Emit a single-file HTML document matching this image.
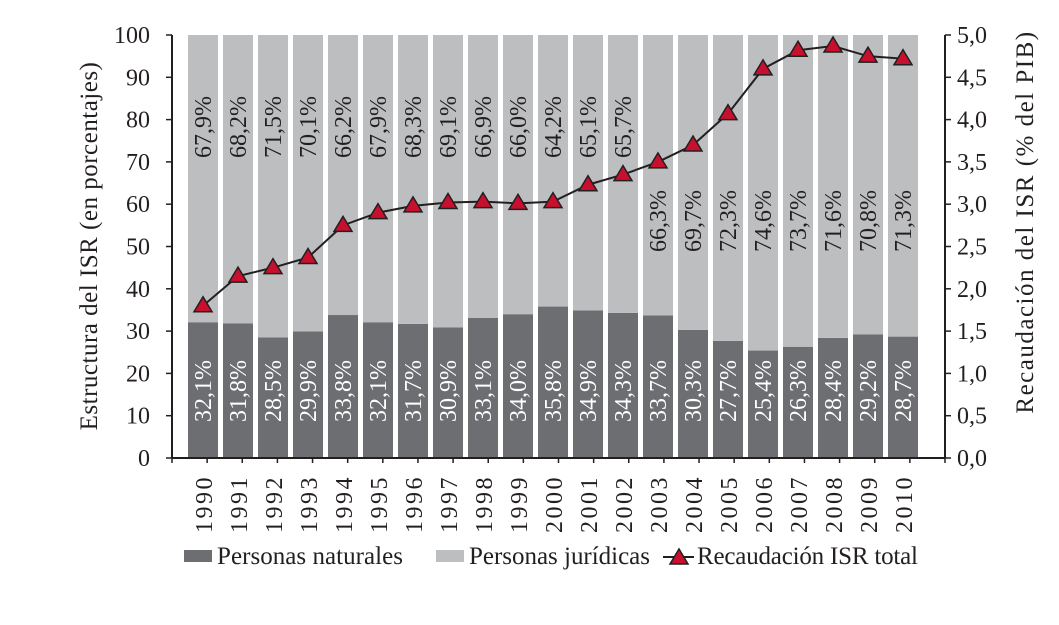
<!DOCTYPE html>
<html><head><meta charset="utf-8"><style>
body{margin:0;background:#fff}
svg text{font-family:"Liberation Serif",serif;fill:#231f20}
</style></head><body>
<svg id="c" width="1059" height="620" xmlns="http://www.w3.org/2000/svg"></svg>
<script>
const years=["1990","1991","1992","1993","1994","1995","1996","1997","1998","1999","2000","2001","2002","2003","2004","2005","2006","2007","2008","2009","2010"];
const naturales=[32.1,31.8,28.5,29.9,33.8,32.1,31.7,30.9,33.1,34.0,35.8,34.9,34.3,33.7,30.3,27.7,25.4,26.3,28.4,29.2,28.7];
const juridicas=[67.9,68.2,71.5,70.1,66.2,67.9,68.3,69.1,66.9,66.0,64.2,65.1,65.7,66.3,69.7,72.3,74.6,73.7,71.6,70.8,71.3];
const recaudacion=[1.8,2.15,2.25,2.37,2.75,2.9,2.98,3.02,3.03,3.01,3.03,3.23,3.35,3.5,3.7,4.07,4.6,4.82,4.87,4.75,4.72];
const leftTicks=[0,10,20,30,40,50,60,70,80,90,100];
const rightTicks=["0,0","0,5","1,0","1,5","2,0","2,5","3,0","3,5","4,0","4,5","5,0"];
const NS="http://www.w3.org/2000/svg",svg=document.getElementById('c');
const X0=172,X1=945,Y0=458,Y1=35;
const yL=v=>Y0-(v/100)*(Y0-Y1);
const yR=v=>Y0-(v/5)*(Y0-Y1);
const xC=i=>203+i*35;
const BW=30;
function el(t,a,p){const e=document.createElementNS(NS,t);for(const k in a)e.setAttribute(k,a[k]);(p||svg).appendChild(e);return e;}
const fmt=v=>v.toFixed(1).replace('.',',')+'%';
years.forEach((y,i)=>{
  const x=xC(i)-BW/2;
  const r1=el('rect',{x:x,y:yL(naturales[i]),width:BW,height:Y0-yL(naturales[i]),fill:'#6d6e71'});
  
  
  const r2=el('rect',{x:x,y:yL(naturales[i]+juridicas[i]),width:BW,height:yL(naturales[i])-yL(naturales[i]+juridicas[i]),fill:'#bcbec0'});
  
  
  const t1=el('text',{transform:`translate(${xC(i)+8},422) rotate(-90)`,'font-size':24,style:'fill:#fff'});
  t1.textContent=fmt(naturales[i]);
  
  
  const ty=i<13?158:252;
  const t2=el('text',{transform:`translate(${xC(i)+8},${ty}) rotate(-90)`,'font-size':24});
  t2.textContent=fmt(juridicas[i]);
  
  
  const tx=el('text',{transform:`translate(${xC(i)+9},533) rotate(-90)`,'font-size':24,'letter-spacing':2.5});
  tx.textContent=y;
  
  
});
el('line',{x1:X0,y1:Y1,x2:X0,y2:Y0,stroke:'#231f20','stroke-width':2});
el('line',{x1:X1,y1:Y1,x2:X1,y2:Y0,stroke:'#231f20','stroke-width':2});
el('line',{x1:X0,y1:Y0,x2:X1,y2:Y0,stroke:'#231f20','stroke-width':2});
for(let i=0;i<=22;i++){const x=X0+i*(X1-X0)/22;el('line',{x1:x,y1:Y0,x2:x,y2:Y0+5,stroke:'#231f20','stroke-width':1.5});}
leftTicks.forEach(v=>{
  el('line',{x1:X0-6,y1:yL(v),x2:X0,y2:yL(v),stroke:'#231f20','stroke-width':1.5});
  const t=el('text',{x:X0-22,y:yL(v)+8,'text-anchor':'end','font-size':24});t.textContent=v;
  
  
});
rightTicks.forEach((v,i)=>{
  const y=yR(i*0.5);
  el('line',{x1:X1,y1:y,x2:X1+6,y2:y,stroke:'#231f20','stroke-width':1.5});
  const t=el('text',{x:X1+12,y:y+8,'font-size':24});t.textContent=v;
  
  
});
const yt=el('text',{transform:'translate(97,246) rotate(-90)','text-anchor':'middle','font-size':25,'letter-spacing':0.5});yt.textContent='Estructura del ISR (en porcentajes)';


const yt2=el('text',{transform:'translate(1033,222) rotate(-90)','text-anchor':'middle','font-size':25,'letter-spacing':1.5});yt2.textContent='Recaudación del ISR (% del PIB)';


const pts=recaudacion.map((v,i)=>xC(i)+','+yR(v)).join(' ');
const pl=el('polyline',{points:pts,fill:'none',stroke:'#231f20','stroke-width':2});


function tri(cx,cy,p){return el('polygon',{points:`${cx},${cy-9} ${cx-9},${cy+6} ${cx+9},${cy+6}`,fill:'#c8102e',stroke:'#231f20','stroke-width':1.5},p);}
recaudacion.forEach((v,i)=>{const t=tri(xC(i),yR(v));
  
  });
const lg=el('g',{});


el('rect',{x:184,y:550,width:28,height:12,fill:'#6d6e71'},lg);
let t=el('text',{x:217,y:564,'font-size':25,'textLength':186},lg);t.textContent='Personas naturales';
el('rect',{x:436,y:550,width:28,height:12,fill:'#bcbec0'},lg);
t=el('text',{x:469,y:564,'font-size':25,'textLength':181},lg);t.textContent='Personas jurídicas';
el('line',{x1:663,y1:557,x2:694,y2:557,stroke:'#231f20','stroke-width':2},lg);
tri(679,558,lg);
t=el('text',{x:697,y:564,'font-size':25,'textLength':221},lg);t.textContent='Recaudación ISR total';
</script>
</body></html>
